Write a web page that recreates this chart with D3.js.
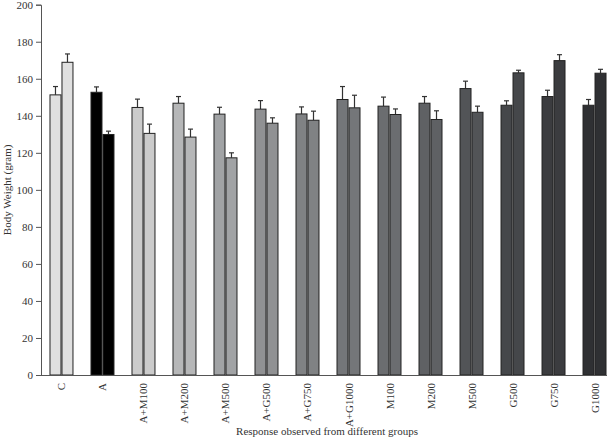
<!DOCTYPE html>
<html>
<head>
<meta charset="utf-8">
<script src="https://cdn.jsdelivr.net/npm/d3@7"></script>
<style>
  html, body { margin: 0; padding: 0; background: #fff; }
  svg text { font-family: "Liberation Serif", "DejaVu Serif", serif; fill: #333; }
</style>
</head>
<body>
<svg id="chart" width="616" height="440"></svg>
<script>
// groups, both bars of a group share one grey
const groups = ['C','A','A+M100','A+M200','A+M500','A+G500','A+G750','A+G1000','M100','M200','M500','G500','G750','G1000'];
const first  = [151.3,152.7,144.5,146.8,140.9,143.6,141.0,148.8,145.2,146.8,154.7,145.7,150.4,145.7];
const firstErr  = [4.5,2.9,4.5,3.6,3.7,4.6,3.8,7.0,4.9,3.6,4.0,2.4,3.4,3.1];
const second = [168.9,129.9,130.5,128.5,117.3,136.0,137.6,144.3,140.7,138.0,141.9,163.2,169.8,163.0];
const secondErr = [4.5,1.8,5.0,4.3,2.7,2.9,4.9,6.8,3.0,4.7,3.3,1.4,3.2,2.1];
const colors = ['#e0e0e0','#000000','#cbcbcb','#b6b7b8','#a1a3a5','#909193','#808284','#747679',
                '#6b6d70','#5f6164','#525457','#45474a','#3b3c3f','#2f3033'];
const yTicks = [0,20,40,60,80,100,120,140,160,180,200];

const svg = d3.select('#chart');
const x0 = 41, x1 = 607, yTop = 4.7, yBot = 375;

const x = d3.scaleBand().domain(groups).range([41, 615]).paddingInner(0.415).paddingOuter(0.207);
const xs = d3.scaleBand().domain([0, 1]).range([0, x.bandwidth()]);
const y = d3.scaleLinear().domain([0, 200]).range([yBot, yTop]);

const rows = groups.map((g, i) => [
  { g, i, k: 0, v: first[i], e: firstErr[i] },
  { g, i, k: 1, v: second[i], e: secondErr[i] }
]).flat();

// error bars (upper only)
const err = svg.append('g').attr('stroke', '#333').attr('stroke-width', 1.2);
rows.forEach(d => {
  const cx = x(d.g) + xs(d.k) + xs.bandwidth() / 2;
  err.append('line').attr('x1', cx).attr('x2', cx).attr('y1', y(d.v)).attr('y2', y(d.v + d.e));
  err.append('line').attr('x1', cx - 2.5).attr('x2', cx + 2.5).attr('y1', y(d.v + d.e)).attr('y2', y(d.v + d.e));
});

svg.append('g').selectAll('rect').data(rows).join('rect')
  .attr('x', d => x(d.g) + xs(d.k) + 0.5)
  .attr('y', d => y(d.v))
  .attr('width', xs.bandwidth() - 1)
  .attr('height', d => y(0) - y(d.v))
  .attr('fill', d => colors[d.i])
  .attr('stroke', '#222')
  .attr('stroke-width', 1);

// y axis
const yAxis = svg.append('g').attr('transform', `translate(${x0},0)`)
  .call(d3.axisLeft(y).tickValues(yTicks).tickSize(5).tickPadding(3));
yAxis.selectAll('text').style('font-size', '11px');
yAxis.selectAll('line, path').attr('stroke', '#555');

// x axis
const xAxis = svg.append('g').attr('transform', `translate(0,${yBot})`)
  .call(d3.axisBottom(x).tickSize(0).tickPadding(0));
xAxis.select('.domain').remove();
xAxis.append('line').attr('x1', x0).attr('x2', x1).attr('y1', 0.5).attr('y2', 0.5).attr('stroke', '#555');
xAxis.selectAll('.tick text')
  .style('font-size', '11px')
  .attr('text-anchor', 'end')
  .attr('transform', 'translate(4,8) rotate(-90)')
  .attr('dy', 0).attr('x', 0).attr('y', 0);

svg.append('text')
  .attr('transform', `translate(11,${(yTop + yBot) / 2}) rotate(-90)`)
  .attr('text-anchor', 'middle')
  .style('font-size', '11px')
  .text('Body Weight (gram)');

svg.append('text')
  .attr('x', 327).attr('y', 435)
  .attr('text-anchor', 'middle')
  .style('font-size', '11px')
  .text('Response observed from different groups');
</script>
</body>
</html>
